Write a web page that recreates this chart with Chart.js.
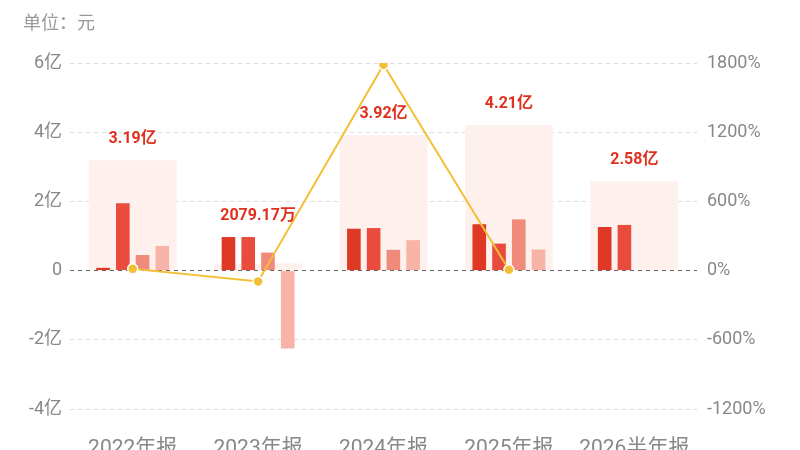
<!DOCTYPE html>
<html>
<head>
<meta charset="utf-8">
<script src="https://cdn.jsdelivr.net/npm/chart.js@4/dist/chart.umd.min.js"></script>
<style>
  html, body { margin: 0; padding: 0; background: #fff; }
  #wrap { width: 800px; height: 450px; position: relative; }
</style>
</head>
<body>
<div id="wrap"><canvas id="profitChart"></canvas></div>
<script>
// report periods
const periods = ['2022年报', '2023年报', '2024年报', '2025年报', '2026半年报'];
// quarterly net profit, yuan
const q1 = [0.08e8, 0.97e8, 1.21e8, 1.34e8, 1.26e8];
const q2 = [1.95e8, 0.97e8, 1.23e8, 0.78e8, 1.32e8];
const q3 = [0.45e8, 0.52e8, 0.60e8, 1.48e8, null];
const q4 = [0.71e8, -2.25e8, 0.88e8, 0.61e8, null];
// period totals and labels
const totals = [3.19e8, 0.207917e8, 3.92e8, 4.21e8, 2.58e8];
const totalLabels = ['3.19亿', '2079.17万', '3.92亿', '4.21亿', '2.58亿'];
// year-on-year growth, %
const growth = [15, -93.48, 1785.5, 7.39, null];
// axis ticks
const leftTicks = [-4e8, -2e8, 0, 2e8, 4e8, 6e8];
const rightTicks = [-1200, -600, 0, 600, 1200, 1800];

const FONT = "Roboto, 'Noto Sans CJK SC', sans-serif";

function yiLabel(v) {
  if (v === 0) return '0';
  return (v / 1e8) + '亿';
}

// draws the total above each period and the unit note
const totalLabelPlugin = {
  id: 'totalLabels',
  afterDatasetsDraw(chart) {
    const ctx = chart.ctx;
    const y = chart.scales.y;
    const x = chart.scales.x;
    ctx.save();
    ctx.font = "bold 16px " + FONT;
    ctx.fillStyle = '#e0301e';
    ctx.textAlign = 'center';
    ctx.textBaseline = 'middle';
    periods.forEach((p, i) => {
      const vals = [totals[i], q1[i], q2[i], q3[i], q4[i]].filter(v => v != null);
      const top = Math.max(...vals);
      ctx.fillText(totalLabels[i], x.getPixelForValue(i), y.getPixelForValue(top) - 21);
    });
    ctx.font = "18px " + FONT;
    ctx.fillStyle = '#999';
    ctx.textAlign = 'left';
    ctx.fillText('单位：元', 23, 24);
    ctx.restore();
  }
};

new Chart(document.getElementById('profitChart'), {
  data: {
    labels: periods,
    datasets: [
      {
        type: 'line', label: '同比', data: growth, yAxisID: 'y1', order: 0,
        borderColor: '#f2c037', borderWidth: 2, tension: 0,
        pointRadius: 5, pointBackgroundColor: '#f2c037',
        pointBorderColor: '#fff', pointBorderWidth: 1.5, spanGaps: false
      },
      { type: 'bar', label: 'Q1', data: q1, backgroundColor: '#df3824', order: 2,
        categoryPercentage: 0.63, barPercentage: 0.69 },
      { type: 'bar', label: 'Q2', data: q2, backgroundColor: '#e94c3c', order: 2,
        categoryPercentage: 0.63, barPercentage: 0.69 },
      { type: 'bar', label: 'Q3', data: q3, backgroundColor: '#f08a7b', order: 2,
        categoryPercentage: 0.63, barPercentage: 0.69 },
      { type: 'bar', label: 'Q4', data: q4, backgroundColor: '#f8b3a7', order: 2,
        categoryPercentage: 0.63, barPercentage: 0.69 },
      { type: 'bar', label: '合计', data: totals, backgroundColor: '#fef0ec', order: 10,
        grouped: false, categoryPercentage: 0.7, barPercentage: 1 }
    ]
  },
  options: {
    responsive: true,
    maintainAspectRatio: false,
    animation: false,
    layout: { padding: { top: 63, left: 0, right: 0, bottom: 0 } },
    plugins: { legend: { display: false }, tooltip: { enabled: false } },
    scales: {
      x: {
        grid: { display: false },
        border: { display: false },
        ticks: { color: '#888', font: { family: FONT, size: 21 }, padding: 19, maxRotation: 0 },
        afterFit(s) { s.height = 41; }
      },
      y: {
        position: 'left',
        min: -4e8, max: 6e8,
        afterBuildTicks(s) { s.ticks = leftTicks.map(v => ({ value: v })); },
        grid: {
          color: c => c.tick && c.tick.value === 0 ? '#666' : '#ddd',
          lineWidth: 1, drawTicks: false
        },
        border: { display: false, dash: [4, 4] },
        ticks: { color: '#888', font: { family: FONT, size: 18 }, padding: 8,
          callback: v => yiLabel(v) },
        afterFit(s) { s.width = 70; }
      },
      y1: {
        position: 'right',
        min: -1200, max: 1800,
        afterBuildTicks(s) { s.ticks = rightTicks.map(v => ({ value: v })); },
        grid: { drawOnChartArea: false, display: false, drawTicks: false },
        border: { display: false },
        ticks: { color: '#888', font: { family: FONT, size: 18 }, padding: 10,
          callback: v => v + '%' },
        afterFit(s) { s.width = 103; }
      }
    }
  },
  plugins: [totalLabelPlugin]
});
</script>
</body>
</html>
